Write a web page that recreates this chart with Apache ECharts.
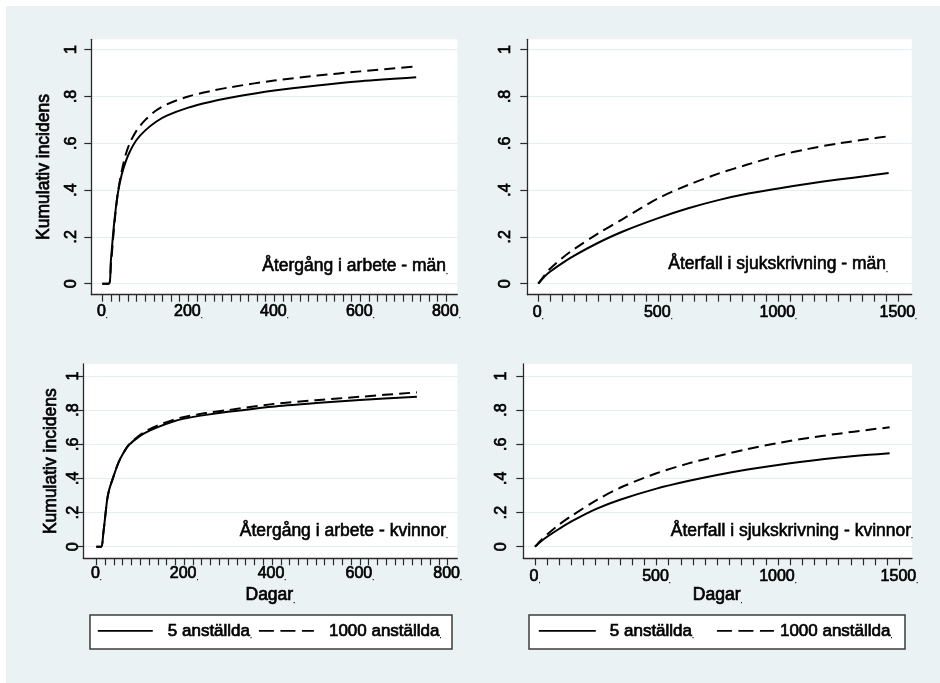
<!DOCTYPE html>
<html>
<head>
<meta charset="utf-8">
<script src="https://cdn.jsdelivr.net/npm/echarts@6/dist/echarts.min.js"></script>
<style>
html,body{margin:0;padding:0;background:#fff;}
#chart{width:940px;height:683px;background:#EAF2F3;box-shadow:inset 6px 6px 0 #fff;}
</style>
</head>
<body>
<div id="chart"></div>
<script>
// ---------- data ----------
const seriesNames = ['5 anställda', '1000 anställda'];
const panelTitles = ['Återgång i arbete - män', 'Återfall i sjukskrivning - män', 'Återgång i arbete - kvinnor', 'Återfall i sjukskrivning - kvinnor'];
const yTitle = 'Kumulativ incidens';
const xTitle = 'Dagar';

// Återgång i arbete - män
const daysRetMen = [0, 15, 20, 25, 30, 36, 45, 55, 65, 80, 100, 125, 150, 200, 250, 300, 400, 500, 600, 730];
const retMen5 = [0, 0, 0.10, 0.21, 0.30, 0.385, 0.465, 0.525, 0.568, 0.615, 0.655, 0.692, 0.718, 0.752, 0.776, 0.795, 0.825, 0.847, 0.865, 0.882];
const retMen1000 = [0, 0, 0.08, 0.19, 0.29, 0.385, 0.48, 0.555, 0.605, 0.655, 0.70, 0.74, 0.766, 0.80, 0.822, 0.84, 0.868, 0.889, 0.907, 0.928];

// Återfall i sjukskrivning - män
const daysRelMen = [0, 25, 50, 100, 150, 250, 350, 500, 625, 750, 875, 1000, 1125, 1250, 1375, 1460];
const relMen5 = [0, 0.03, 0.052, 0.088, 0.12, 0.175, 0.222, 0.28, 0.322, 0.357, 0.385, 0.407, 0.427, 0.445, 0.461, 0.473];
const relMen1000 = [0, 0.035, 0.065, 0.11, 0.148, 0.215, 0.275, 0.365, 0.422, 0.47, 0.51, 0.547, 0.576, 0.599, 0.618, 0.63];

// Återgång i arbete - kvinnor
const daysRetWomen = [0, 11, 16, 20, 25, 30, 39, 50, 62, 74, 90, 110, 140, 175, 200, 250, 300, 400, 500, 600, 730];
const retWomen5 = [0, 0, 0.08, 0.17, 0.28, 0.34, 0.41, 0.49, 0.55, 0.595, 0.63, 0.665, 0.70, 0.733, 0.75, 0.772, 0.79, 0.82, 0.841, 0.859, 0.878];
const retWomen1000 = [0, 0, 0.08, 0.17, 0.28, 0.34, 0.41, 0.49, 0.55, 0.597, 0.635, 0.672, 0.71, 0.743, 0.76, 0.783, 0.80, 0.835, 0.858, 0.878, 0.904];

// Återfall i sjukskrivning - kvinnor
const daysRelWomen = [0, 25, 50, 100, 150, 250, 350, 500, 625, 750, 875, 1000, 1125, 1250, 1375, 1460];
const relWomen5 = [0, 0.032, 0.058, 0.105, 0.148, 0.22, 0.275, 0.34, 0.383, 0.42, 0.452, 0.479, 0.502, 0.522, 0.538, 0.547];
const relWomen1000 = [0, 0.038, 0.072, 0.13, 0.18, 0.27, 0.345, 0.43, 0.485, 0.53, 0.572, 0.607, 0.637, 0.662, 0.685, 0.699];

// ticks
const yTickValues = [0, 0.2, 0.4, 0.6, 0.8, 1];
const yTickLabels = ['0', '.2', '.4', '.6', '.8', '1'];
const xLabelsRet = [0, 200, 400, 600, 800];
const xMinorStepRet = 20;
const xLabelsRel = [0, 500, 1000, 1500];
const xMinorStepRel = 50;

// ---------- helpers ----------
const FONT = "'Liberation Sans', Arial, sans-serif";
const TB = { textBorderColor: '#000', textBorderWidth: 0.7 };
function ticksFrom(labels, step) {
  const out = [];
  for (let v = labels[0]; v <= labels[labels.length - 1] + 1e-9; v += step) out.push(v);
  return out;
}
function pairs(xs, ys) { return xs.map((x, i) => [x, ys[i]]); }
function txt(size, extra) { return Object.assign({ fontSize: size, fontFamily: FONT, color: '#000' }, TB, extra || {}); }
const dotStyle = txt(7, { verticalAlign: 'bottom', textBorderWidth: 0.3 });

const grids = [
  { left: 91.3, top: 39.3, width: 366, height: 255.4 },
  { left: 527.3, top: 39.3, width: 384.4, height: 255.4 },
  { left: 83.3, top: 364, width: 374, height: 194.3 },
  { left: 523.3, top: 364, width: 388.7, height: 194.3 }
];
grids.forEach(g => { g.show = true; g.backgroundColor = '#fff'; g.borderWidth = 0; g.containLabel = false; });

const xCfg = [
  { min: -25.6, max: 825.6, labels: xLabelsRet, step: xMinorStepRet, margin: 9, name: '' },
  { min: -45.8, max: 1556, labels: xLabelsRel, step: xMinorStepRel, margin: 10, name: '' },
  { min: -29.6, max: 822, labels: xLabelsRet, step: xMinorStepRet, margin: 7, name: xTitle },
  { min: -48.2, max: 1552, labels: xLabelsRel, step: xMinorStepRel, margin: 10, name: xTitle }
];
const yCfg = [
  { min: -0.047, max: 1.044, margin: 12, name: yTitle, nameGap: 38 },
  { min: -0.047, max: 1.044, margin: 14, name: '', nameGap: 0 },
  { min: -0.068, max: 1.070, margin: 2, name: yTitle, nameGap: 23 },
  { min: -0.068, max: 1.070, margin: 14, name: '', nameGap: 0 }
];

const axisLine = { show: true, onZero: false, lineStyle: { color: '#2a2a2a', width: 1.3 } };
const axisTickStyle = { color: '#2a2a2a', width: 1.2 };

const xAxes = xCfg.map((c, i) => ({
  type: 'value', gridIndex: i, min: c.min, max: c.max,
  axisLine: axisLine,
  axisTick: { show: true, length: 7, lineStyle: axisTickStyle, customValues: ticksFrom(c.labels, c.step) },
  axisLabel: Object.assign({
    show: true, margin: c.margin, customValues: c.labels,
    formatter: v => '{n|' + v + '}{d|.}', rich: { n: txt(16), d: dotStyle }
  }, TB),
  splitLine: { show: false },
  name: c.name ? '{t|' + c.name + '}{d|.}' : '',
  nameLocation: 'middle', nameGap: 28,
  nameTextStyle: Object.assign({ rich: { t: txt(17.5), d: dotStyle } }, TB)
}));

const yAxes = yCfg.map((c, i) => ({
  type: 'value', gridIndex: i, min: c.min, max: c.max,
  axisLine: axisLine,
  axisTick: { show: true, length: 7, lineStyle: axisTickStyle, customValues: yTickValues },
  axisLabel: Object.assign({
    show: true, margin: c.margin, rotate: 90, customValues: yTickValues,
    fontSize: 16, fontFamily: FONT, color: '#000',
    formatter: v => { const k = yTickValues.findIndex(t => Math.abs(t - v) < 1e-6); return k >= 0 ? yTickLabels[k] : ''; }
  }, TB),
  splitLine: { show: true, lineStyle: { color: '#E4EDEF', width: 1.2 } },
  name: c.name, nameLocation: 'middle', nameGap: c.nameGap, nameRotate: 90,
  nameTextStyle: txt(17.5)
}));

const panelData = [
  [pairs(daysRetMen, retMen5), pairs(daysRetMen, retMen1000)],
  [pairs(daysRelMen, relMen5), pairs(daysRelMen, relMen1000)],
  [pairs(daysRetWomen, retWomen5), pairs(daysRetWomen, retWomen1000)],
  [pairs(daysRelWomen, relWomen5), pairs(daysRelWomen, relWomen1000)]
];

const series = [];
panelData.forEach((pd, i) => {
  pd.forEach((d, k) => {
    series.push({
      type: 'line', name: seriesNames[k], xAxisIndex: i, yAxisIndex: i,
      data: d, symbol: 'none', smooth: 0.3, silent: true,
      lineStyle: { color: '#000', width: 2, type: k === 0 ? 'solid' : [11, 6] },
      itemStyle: { color: '#000' }
    });
  });
});

function legendAt(left, itemWidth, gap, pads) {
  return {
    left: left, top: 622, orient: 'horizontal', padding: 0,
    itemWidth: itemWidth, itemHeight: 14, itemGap: gap,
    data: seriesNames, selectedMode: false,
    itemStyle: { opacity: 0, color: 'transparent', borderWidth: 0 },
    lineStyle: { width: 1.6, type: [15, 6.5] },
    formatter: name => (name === seriesNames[0] ? '{a|' : '{b|') + name + '}{d|.}',
    textStyle: Object.assign({
      rich: {
        a: txt(17, { padding: [0, 0, 0, pads[0]] }),
        b: txt(17, { padding: [0, 0, 0, pads[1]] }),
        d: dotStyle
      }
    }, TB),
    z: 10
  };
}
const legends = [legendAt(97, 55, 6, [10, 10]), legendAt(538, 57, 22, [9, 1])];
// solid legend entry must stay solid
legends.forEach(l => {
  l.data = [
    { name: seriesNames[0], lineStyle: { type: 'solid', width: 1.6 } },
    { name: seriesNames[1], lineStyle: { type: [15, 6.5], width: 1.6 } }
  ];
});

const annotPos = [
  { x: 448, y: 266.5 },
  { x: 888, y: 264.5 },
  { x: 448, y: 531 },
  { x: 913, y: 531 }
];
const graphics = [
  { type: 'rect', shape: { x: 90, y: 615, width: 362, height: 34 }, style: { fill: '#fff', stroke: '#3c3c3c', lineWidth: 1.5 }, z: 1 },
  { type: 'rect', shape: { x: 529, y: 615, width: 376, height: 34 }, style: { fill: '#fff', stroke: '#3c3c3c', lineWidth: 1.5 }, z: 1 }
].concat(panelTitles.map((t, i) => ({
  type: 'text', x: annotPos[i].x, y: annotPos[i].y, z: 20,
  style: {
    text: '{t|' + t + '}{d|.}', align: 'right', verticalAlign: 'middle',
    stroke: '#000', lineWidth: 0.6,
    rich: {
      t: { fontSize: 17.5, fontFamily: FONT, fill: '#000', stroke: '#000', lineWidth: 0.6 },
      d: { fontSize: 7, fontFamily: FONT, fill: '#000', verticalAlign: 'bottom', stroke: '#000', lineWidth: 0.3 }
    }
  }
})));

const chart = echarts.init(document.getElementById('chart'), null, { renderer: 'canvas' });
chart.setOption({
  backgroundColor: 'transparent',
  animation: false,
  grid: grids,
  xAxis: xAxes,
  yAxis: yAxes,
  legend: legends,
  graphic: graphics,
  series: series
});
</script>
</body>
</html>
